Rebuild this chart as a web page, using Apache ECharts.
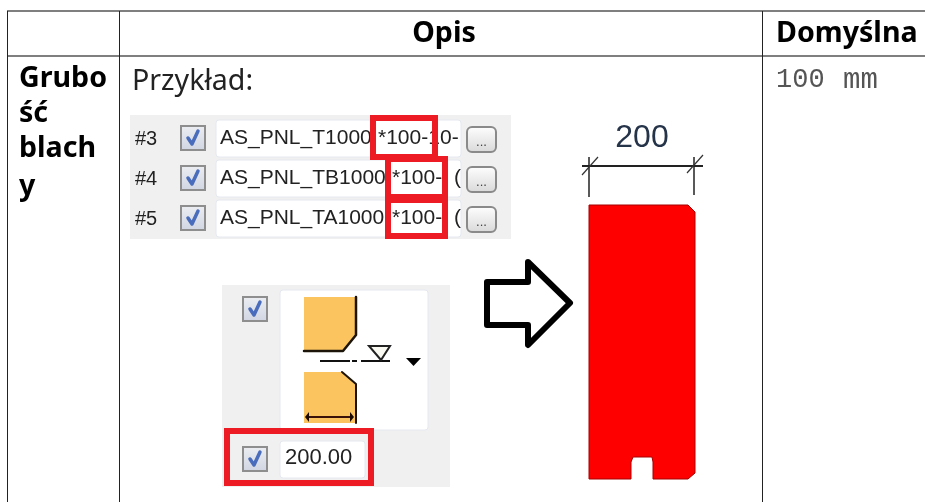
<!DOCTYPE html>
<html><head><meta charset="utf-8">
<style>html,body{margin:0;padding:0;background:#fff}#c{width:925px;height:502px}</style>
<script src="https://cdn.jsdelivr.net/npm/echarts@6/dist/echarts.min.js"></script>
</head><body><div id="c"></div>
<script>
const headers = ['Opis', 'Domyślna'];
const rowLabel = ['Grubo', 'ść', 'blach', 'y'];
const exampleLabel = 'Przykład:';
const defaultValue = '100 mm';
const rowNumbers = ['#3', '#4', '#5'];
const profileNames = ['AS_PNL_T1000', 'AS_PNL_TB1000', 'AS_PNL_TA1000'];
const profileSuffix = ['*100-1', '*100-', '*100-'];
const profileTail = ['0-', '(', '('];
const widthField = '200.00';
const dimensionLabel = '200';

const SANS = '"Noto Sans","Open Sans",sans-serif';
const UI = '"Liberation Sans",Arial,sans-serif';
const MONO = '"Liberation Mono",monospace';
const els = [];
const rect = (x, y, w, h, fill, stroke, lw, r, z) => els.push({type:'rect', z:z||1, shape:{x,y,width:w,height:h,r:r||0},
  style:{fill:fill||'none', stroke:stroke||'none', lineWidth:lw||0}});
const line = (x1, y1, x2, y2, stroke, lw, z) => els.push({type:'line', z:z||2, shape:{x1,y1,x2,y2}, style:{stroke, lineWidth:lw}});
const poly = (points, fill, stroke, lw, z, join) => els.push({type:'polygon', z:z||2, shape:{points},
  style:{fill:fill||'none', stroke:stroke||'none', lineWidth:lw||0, lineJoin:join||'miter'}});
const pline = (points, stroke, lw, z) => els.push({type:'polyline', z:z||3, shape:{points}, style:{stroke, lineWidth:lw, fill:'none', lineJoin:'round', lineCap:'round'}});
const text = (x, y, t, font, size, color, weight, align, z) => els.push({type:'text', z:z||4, x, y,
  style:{text:t, fontFamily:font, fontSize:size, fill:color||'#000', fontWeight:weight||'normal', textAlign:align||'left', textVerticalAlign:'middle'}});
const grad = (a, b) => ({type:'linear', x:0, y:0, x2:0, y2:1, colorStops:[{offset:0,color:a},{offset:1,color:b}]});

// table rules
line(7, 11, 925, 11, '#555', 1.5);
line(7, 56, 925, 56, '#555', 1.5);
line(7.5, 11, 7.5, 502, '#222', 1);
line(119.5, 11, 119.5, 502, '#222', 1);
line(762.5, 11, 762.5, 502, '#222', 1);

// table text
text(444, 34, headers[0], SANS, 28.6, '#000', 'bold', 'center');
text(776, 34, headers[1], SANS, 28.6, '#000', 'bold');
[79, 114, 149, 187].forEach((y, i) => text(19, y, rowLabel[i], SANS, 28.6, '#000', 'bold'));
text(132, 82, exampleLabel, SANS, 28.6, '#222');
text(776, 80, defaultValue.split(' ')[0], MONO, 27, '#555');
text(843, 80, defaultValue.split(' ')[1], MONO, 29, '#555');

function checkbox(x, y) {
  rect(x + 1, y + 1, 24, 24, grad('#eceef2', '#d0d5e2'), '#8e8e8e', 2, 0, 3);
  pline([[x + 8, y + 13], [x + 12, y + 19], [x + 18, y + 6]], '#4a6cbc', 3.5, 4);
}
function button(x, y) {
  rect(x, y, 29, 25, grad('#ffffff', '#d8d8d8'), '#8a8a8a', 2, 5, 3);
  text(x + 14.5, y + 15, '...', UI, 13, '#444', 'normal', 'center');
}

// upper panel
rect(130, 115, 381, 124, '#f0f0f0');
[0, 1, 2].forEach(i => {
  const off = i * 40;
  rect(216, 120 + off, 245, 37, '#fff', '#e4e8f0', 1, 3, 2);
  text(135, 139 + off, rowNumbers[i], UI, 20, '#222');
  checkbox(180, 125 + off);
  text(220, 138 + off, profileNames[i], UI, 21, '#222');
  button(467, 127 + off);
});
// masks that clip the overflowing names at the suffix position
rect(373, 122, 5, 33, '#fff', null, 0, 0, 5);
text(378, 138, profileSuffix[0], UI, 21, '#222', 'normal', 'left', 6);
text(440, 138, profileTail[0], UI, 21, '#222');
rect(388, 162, 4, 33, '#fff', null, 0, 0, 5);
rect(388, 202, 4, 33, '#fff', null, 0, 0, 5);
text(392, 178, profileSuffix[1], UI, 21, '#222', 'normal', 'left', 6);
text(454, 178, profileTail[1], UI, 21, '#222');
text(392, 218, profileSuffix[2], UI, 21, '#222', 'normal', 'left', 6);
text(454, 218, profileTail[2], UI, 21, '#222');
const RED = '#ed1c24';
rect(373, 118, 62, 39, 'none', RED, 6, 0, 7);
rect(388, 159, 57, 38, 'none', RED, 6, 0, 7);
rect(388, 200, 57, 36, 'none', RED, 6, 0, 7);

// lower panel
rect(222, 285, 228, 202, '#f0f0f0');
rect(280, 290, 148, 140, '#fff', '#e4e8f0', 1, 3, 2);
checkbox(242, 296);
poly([[304,297],[356,297],[356,335],[343,351],[304,351]], '#fcc45f', null, 0, 3);
pline([[356,297],[356,335],[343,351],[304,351]], '#1c1408', 2.5, 4);
poly([[304,372],[342,372],[356,384],[356,423],[304,423]], '#fcc45f', null, 0, 3);
pline([[342,372],[356,384],[356,423]], '#1c1408', 2, 4);
line(320, 361, 350, 361, '#111', 2);
line(352, 361, 357, 361, '#111', 2);
line(361, 361, 390, 361, '#111', 2);
poly([[369,346],[390,346],[381,360]], '#fbfaf2', '#222', 2, 4);
poly([[406,358],[421,358],[413.5,366]], '#000', null, 0, 4);
line(306, 417, 353, 417, '#3a1208', 2, 5);
poly([[305,417],[309,412],[309,422]], '#1c0a04', null, 0, 5);
poly([[354,417],[350,412],[350,422]], '#1c0a04', null, 0, 5);

rect(227, 431, 144, 52, 'none', RED, 6, 0, 7);
checkbox(242, 446);
rect(280, 441, 85, 37, '#fff', '#e4e8f0', 1, 3, 2);
text(285, 458, widthField, UI, 22, '#222');

// arrow
poly([[487,282],[528,282],[528,262],[570,303],[528,345],[528,325],[487,325]], '#fff', '#000', 6, 3, 'round');

// dimension
text(642, 138, dimensionLabel, UI, 32, '#26344a', 'normal', 'center');
line(582, 166, 703, 166, '#222', 2);
line(589, 157, 589, 197, '#222', 1.5);
line(694, 157, 694, 195, '#222', 1.5);
line(582, 175, 598, 157, '#333', 1.2);
line(687, 173, 703, 155, '#333', 1.2);

// red plate
poly([[589,205],[688,205],[695,212],[695,473],[688,479],[653,479],[653,462],[652,457],[633,457],[631,462],[631,479],[589,479]],
  '#ff0000', '#a50000', 1, 3);

echarts.init(document.getElementById('c'), null, {renderer:'canvas'}).setOption({
  animation:false, backgroundColor:'#fff', graphic:{elements:els}
});
</script></body></html>
